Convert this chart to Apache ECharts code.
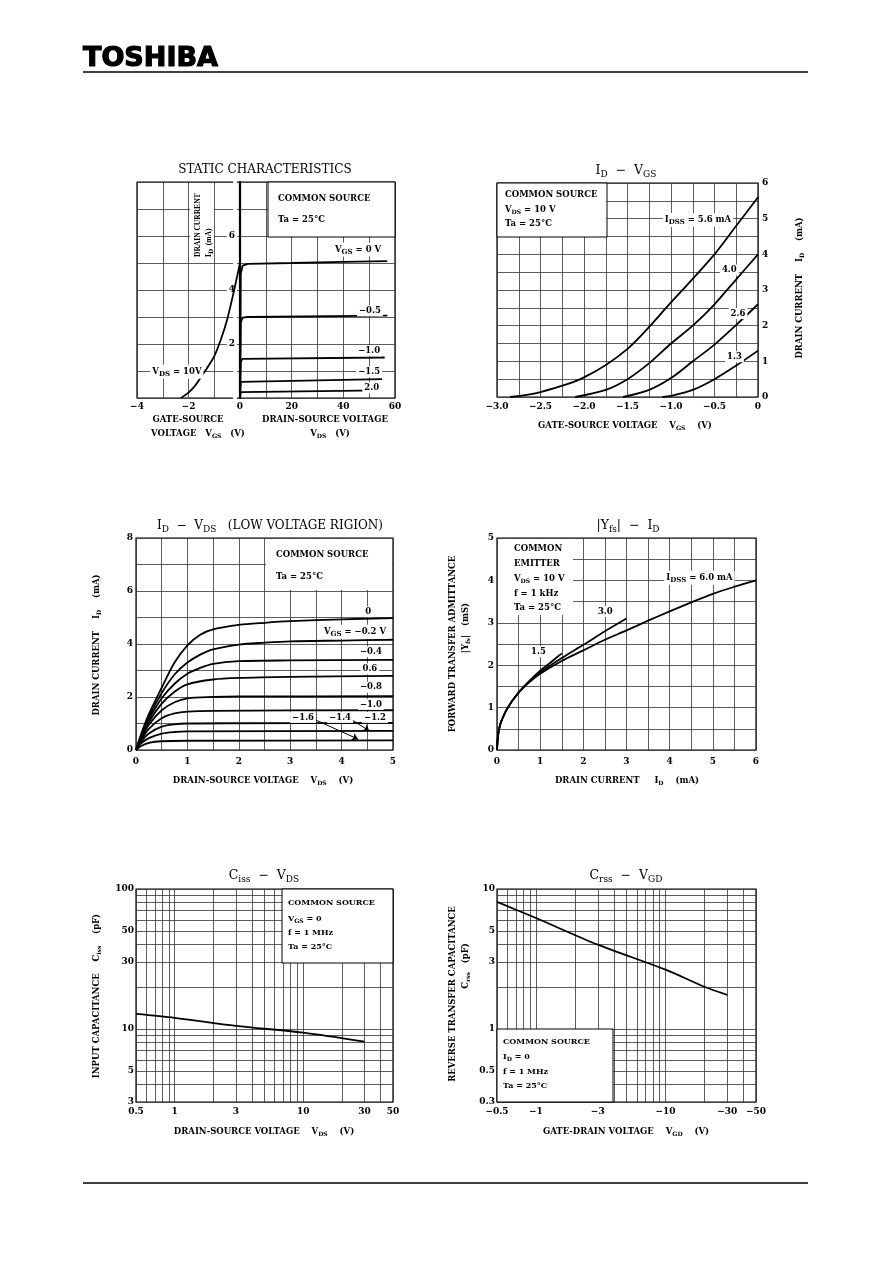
<!DOCTYPE html>
<html><head><meta charset="utf-8">
<script src="https://cdn.jsdelivr.net/npm/echarts@6/dist/echarts.min.js"></script>
<style>html,body{margin:0;padding:0;background:#fff}#c{width:892px;height:1263px}</style>
</head><body><div id="c"></div>
<script>
// ---------------- DATA ----------------
// Static characteristics: ID vs VGS at VDS=10V (left panel)
const staticTransfer = [[-2.3,0],[-2.0,0.2],[-1.75,0.45],[-1.5,0.8],[-1.25,1.15],[-1.0,1.55],[-0.75,2.15],[-0.5,2.9],[-0.25,3.9],[0,5.0]];
// Static characteristics: ID vs VDS (right panel)
const staticOutVgs0   = [[0,0],[0.3,4.6],[1,4.9],[3,4.97],[20,5.0],[40,5.04],[57,5.07]];
const staticOutVgsM05 = [[0,0],[0.3,2.8],[1,2.98],[3,3.0],[57,3.05]];
const staticOutVgsM10 = [[0,0],[0.3,1.35],[1,1.45],[56,1.5]];
const staticOutVgsM15 = [[0,0],[0.3,0.6],[1,0.66],[55,0.7]];
const staticOutVgsM20 = [[0,0],[0.3,0.22],[1,0.26],[54,0.28]];
const staticXLeftLabels = [-4,-2,0];
const staticXRightLabels = [20,40,60];
const staticYLabels = [2,4,6];

// ID - VGS
const idVgs56 = [[-2.85,0],[-2.5,0.14],[-2.0,0.55],[-1.5,1.35],[-1.0,2.65],[-0.5,4.0],[-0.25,4.8],[0,5.6]];
const idVgs40 = [[-2.1,0],[-1.75,0.2],[-1.5,0.5],[-1.25,0.95],[-1.0,1.5],[-0.75,2.0],[-0.5,2.6],[-0.25,3.3],[0,4.0]];
const idVgs26 = [[-1.55,0],[-1.25,0.2],[-1.0,0.53],[-0.75,1.0],[-0.5,1.47],[-0.25,2.02],[0,2.6]];
const idVgs13 = [[-1.1,0],[-1.0,0.03],[-0.75,0.2],[-0.5,0.5],[-0.25,0.88],[0,1.3]];

// ID - VDS (low voltage region)
const idVds_0   = [[0,0],[0.1,0.6],[0.25,1.35],[0.5,2.35],[0.75,3.3],[1,3.95],[1.25,4.35],[1.5,4.55],[2,4.72],[2.5,4.8],[3,4.86],[4,4.93],[5,4.98]];
const idVds_m02 = [[0,0],[0.1,0.55],[0.25,1.25],[0.5,2.15],[0.75,2.85],[1,3.3],[1.25,3.6],[1.5,3.8],[2,3.98],[2.5,4.05],[3,4.1],[4,4.13],[5,4.16]];
const idVds_m04 = [[0,0],[0.1,0.5],[0.25,1.15],[0.5,1.95],[0.75,2.5],[1,2.88],[1.25,3.1],[1.5,3.25],[2,3.35],[3,3.38],[5,3.4]];
const idVds_m06 = [[0,0],[0.1,0.48],[0.25,1.05],[0.5,1.75],[0.75,2.2],[1,2.48],[1.5,2.66],[2,2.72],[3,2.76],[5,2.8]];
const idVds_m08 = [[0,0],[0.1,0.42],[0.25,0.95],[0.5,1.5],[0.75,1.8],[1,1.95],[1.5,2.0],[2,2.02],[5,2.03]];
const idVds_m10 = [[0,0],[0.1,0.38],[0.25,0.8],[0.5,1.2],[0.75,1.38],[1,1.45],[1.5,1.48],[5,1.5]];
const idVds_m12 = [[0,0],[0.1,0.32],[0.25,0.62],[0.5,0.88],[0.75,0.97],[1,1.0],[2,1.01],[5,1.02]];
const idVds_m14 = [[0,0],[0.1,0.25],[0.25,0.45],[0.5,0.62],[0.75,0.68],[1,0.7],[5,0.72]];
const idVds_m16 = [[0,0],[0.1,0.15],[0.25,0.27],[0.5,0.33],[1,0.35],[5,0.36]];

// |Yfs| - ID
const yfs60 = [[0,0],[0.02,0.3],[0.05,0.5],[0.1,0.68],[0.25,1.0],[0.5,1.35],[0.75,1.6],[1,1.8],[1.5,2.1],[2,2.35],[2.5,2.6],[3,2.82],[3.5,3.05],[4,3.27],[4.5,3.48],[5,3.68],[5.5,3.85],[6,4.0]];
const yfs30 = [[0,0],[0.02,0.3],[0.05,0.5],[0.1,0.68],[0.25,1.0],[0.5,1.35],[0.75,1.61],[1,1.83],[1.5,2.17],[2,2.48],[2.5,2.8],[3,3.1]];
const yfs15 = [[0,0],[0.02,0.3],[0.05,0.5],[0.1,0.68],[0.25,1.0],[0.5,1.36],[0.75,1.63],[1,1.87],[1.25,2.07],[1.5,2.28]];

// Ciss - VDS (log-log)
const ciss = [[0.5,12.8],[1,12.0],[3,10.5],[10,9.4],[30,8.1]];
const cissXTicks = [0.5,0.6,0.7,0.8,0.9,1,2,3,4,5,6,7,8,9,10,20,30,40,50];
const cissXLabels = [0.5,1,3,10,30,50];
const cissYTicks = [3,4,5,6,7,8,9,10,20,30,40,50,60,70,80,90,100];
const cissYLabels = [3,5,10,30,50,100];

// Crss - VGD (log-log, |VGD|)
const crss = [[0.5,8.1],[1,6.2],[3,4.0],[10,2.65],[20,2.0],[30,1.75]];
const crssXTicks = [0.5,0.6,0.7,0.8,0.9,1,2,3,4,5,6,7,8,9,10,20,30,40,50];
const crssXLabels = [0.5,1,3,10,30,50];
const crssYTicks = [0.3,0.4,0.5,0.6,0.7,0.8,0.9,1,2,3,4,5,6,7,8,9,10];
const crssYLabels = [0.3,0.5,1,3,5,10];

// ---------------- STYLE / HELPERS ----------------
const SERIF = 'DejaVu Serif';
const MINUS = '\u2212';
const LBL = {color:'#000', fontFamily:SERIF, fontSize:9, fontWeight:'bold'};
const SPLIT = {show:true, lineStyle:{color:'#333', width:0.8}};
const MSPLIT = {show:true, lineStyle:{color:'#333', width:0.8}};

function lin(grid, min, max, interval, pos, lab, extra) {
  const a = {type:'value', gridIndex:grid, min, max, interval, position:pos,
    axisLine:{show:false}, axisTick:{show:false}, splitLine:SPLIT,
    axisLabel:Object.assign({}, LBL, lab||{}), animation:false};
  return Object.assign(a, extra||{});
}
function logHidden(grid, min, max, pos) {
  return {type:'log', logBase:10, gridIndex:grid, min, max, show:false, position:pos};
}
function logLabels(grid, ticks, labels, pos, fmt, margin) {
  return {type:'value', gridIndex:grid, position:pos,
    min:Math.log10(ticks[0]), max:Math.log10(ticks[ticks.length-1]),
    axisLine:{show:false},
    axisTick:{show:false, customValues:ticks.map(Math.log10)},
    splitLine:SPLIT,
    axisLabel:Object.assign({}, LBL, {margin, customValues:labels.map(Math.log10),
      formatter:v=>fmt(parseFloat(Math.pow(10,v).toPrecision(2)))})};
}
function curve(xi, yi, data, extra) {
  return Object.assign({type:'line', xAxisIndex:xi, yAxisIndex:yi, data, showSymbol:false, symbol:'none',
    smooth:0.3, lineStyle:{color:'#000', width:1.8}, silent:true, z:3, animation:false}, extra||{});
}
const RICH_L = {s:{fontSize:7, fontFamily:SERIF, fontWeight:'bold', color:'#000', padding:[5,0,0,0]}};
function notes(xi, yi, items) {
  return {type:'scatter', xAxisIndex:xi, yAxisIndex:yi, symbol:'circle', symbolSize:0,
    itemStyle:{color:'#000', opacity:1}, silent:true, z:6, animation:false,
    labelLayout:{hideOverlap:false},
    data:items.map(it=>({value:[it[0],it[1]], label:{show:true, position:'inside', formatter:it[2],
      color:'#000', opacity:1, textBorderWidth:0, fontFamily:SERIF, fontSize:8.5, fontWeight:'bold', rich:RICH_L,
      backgroundColor:it[3]===false?'transparent':'#fff', padding:[1,2]}}))};
}
function rich(fs, fw) {
  return {s:{fontSize:Math.round(fs*0.75), fontFamily:SERIF, fontWeight:fw, fill:'#000', padding:[Math.round(fs*0.55),0,0,0]}};
}
function gt(x, y, text, o) {
  o = o||{};
  const fs = o.fs||9;
  const fw = o.fw||'normal';
  return {type:'text', x, y, rotation:o.rot||0, z:61, silent:true,
    style:{text, fill:'#000', fontFamily:o.ff||SERIF, fontSize:fs, fontWeight:fw,
      textAlign:o.align||'center', textVerticalAlign:'middle', verticalAlign:'middle', rich:rich(fs, fw)}};
}
function box(x, y, w, h, stroke) {
  return {type:'rect', shape:{x, y, width:w, height:h}, z:60, silent:true,
    style:{fill:'#fff', stroke:stroke?'#000':null, lineWidth:stroke?1:0}};
}
const ROT = Math.PI/2;
const B = 'bold';

// ---------------- GRIDS ----------------
const G = {show:true, borderColor:'#000', borderWidth:1.2, backgroundColor:'transparent', containLabel:false};
const grids = [
  Object.assign({left:137, top:182, width:103, height:216}, G),
  Object.assign({left:240, top:182, width:155, height:216}, G),
  Object.assign({left:497, top:183, width:261, height:214}, G),
  Object.assign({left:136, top:538, width:257, height:212}, G),
  Object.assign({left:497, top:538, width:259, height:212}, G),
  Object.assign({left:136, top:889, width:257, height:213}, G),
  Object.assign({left:497, top:889, width:259, height:213}, G)
];

const minor2 = {minorTick:{show:false, splitNumber:2}, minorSplitLine:MSPLIT};

const xAxes = [
  lin(0, -4, 0, 1, 'bottom', {margin:4, formatter:v=>staticXLeftLabels.includes(v)?(v<0?MINUS+(-v):String(v)):''}),
  lin(1, 0, 60, 10, 'bottom', {margin:4, formatter:v=>staticXRightLabels.includes(v)?String(v):''}),
  lin(2, -3, 0, 0.5, 'bottom', {margin:5, formatter:v=>v===0?'0':MINUS+Math.abs(v).toFixed(1)}, minor2),
  lin(3, 0, 5, 1, 'bottom', {margin:7}, minor2),
  lin(4, 0, 6, 1, 'bottom', {margin:7}, minor2),
  logHidden(5, 0.5, 50, 'bottom'),
  logLabels(5, cissXTicks, cissXLabels, 'bottom', v=>String(v), 5),
  logHidden(6, 0.5, 50, 'bottom'),
  logLabels(6, crssXTicks, crssXLabels, 'bottom', v=>MINUS+v, 5)
];
const yAxes = [
  lin(0, 0, 8, 1, 'right', {inside:true, margin:3, backgroundColor:'#fff', padding:[1,2],
      formatter:v=>staticYLabels.includes(v)?String(v):''},
      {axisLine:{show:true, lineStyle:{color:'#000', width:2.2}}}),
  lin(1, 0, 8, 1, 'left', {show:false}),
  lin(2, 0, 6, 1, 'right', {margin:4}, minor2),
  lin(3, 0, 8, 2, 'left', {margin:3}, minor2),
  lin(4, 0, 5, 1, 'left', {margin:3}, minor2),
  logHidden(5, 3, 100, 'left'),
  logLabels(5, cissYTicks, cissYLabels, 'left', v=>String(v), 2),
  logHidden(6, 0.3, 10, 'left'),
  logLabels(6, crssYTicks, crssYLabels, 'left', v=>String(v), 2)
];

// ---------------- SERIES ----------------
const series = [
  curve(0, 0, staticTransfer),
  curve(1, 1, staticOutVgs0, {smooth:false}),
  curve(1, 1, staticOutVgsM05, {smooth:false}),
  curve(1, 1, staticOutVgsM10, {smooth:false}),
  curve(1, 1, staticOutVgsM15, {smooth:false}),
  curve(1, 1, staticOutVgsM20, {smooth:false}),
  notes(0, 0, [[-2.45, 0.97, 'V{s|DS} = 10V']]),
  notes(1, 1, [[45.7, 5.5, 'V{s|GS} = 0 V'], [50.3, 3.23, MINUS+'0.5'], [50, 1.75, MINUS+'1.0'], [50, 0.97, MINUS+'1.5'], [51, 0.38, '2.0']]),

  curve(2, 2, idVgs56), curve(2, 2, idVgs40), curve(2, 2, idVgs26), curve(2, 2, idVgs13),
  notes(2, 2, [[-0.69, 4.96, 'I{s|DSS} = 5.6 mA'], [-0.33, 3.56, '4.0'], [-0.23, 2.34, '2.6'], [-0.27, 1.13, '1.3']]),

  curve(3, 3, idVds_0), curve(3, 3, idVds_m02), curve(3, 3, idVds_m04), curve(3, 3, idVds_m06),
  curve(3, 3, idVds_m08), curve(3, 3, idVds_m10), curve(3, 3, idVds_m12), curve(3, 3, idVds_m14),
  curve(3, 3, idVds_m16, {markLine:{silent:true, symbol:['none','arrow'], symbolSize:6, animation:false,
      lineStyle:{color:'#000', width:1, type:'solid'}, label:{show:false},
      data:[[{coord:[3.43,1.19]},{coord:[4.32,0.41]}], [{coord:[4.15,1.2]},{coord:[4.54,0.72]}]]}}),
  notes(3, 3, [[4.52, 5.22, '0'], [4.26, 4.46, 'V{s|GS} = '+MINUS+'0.2 V'], [4.57, 3.71, MINUS+'0.4'], [4.55, 3.06, '0.6'],
               [4.57, 2.37, MINUS+'0.8'], [4.57, 1.72, MINUS+'1.0'], [4.65, 1.23, MINUS+'1.2'],
               [3.97, 1.23, MINUS+'1.4'], [3.25, 1.23, MINUS+'1.6']]),

  curve(4, 4, yfs60), curve(4, 4, yfs30), curve(4, 4, yfs15),
  notes(4, 4, [[4.69, 4.06, 'I{s|DSS} = 6.0 mA'], [2.51, 3.27, '3.0'], [0.96, 2.32, '1.5']]),

  curve(5, 5, ciss),
  curve(7, 7, crss)
];

// ---------------- GRAPHIC (text, boxes, rules) ----------------
const graphic = [
  {type:'text', x:83, y:59, z:61, silent:true, style:{text:'TOSHIBA', fill:'#000', stroke:'#000', lineWidth:1.2, fontFamily:'DejaVu Sans', fontSize:27, fontWeight:'bold', textAlign:'left', textVerticalAlign:'middle', verticalAlign:'middle'}},
  {type:'line', z:61, silent:true, shape:{x1:83, y1:72, x2:808, y2:72}, style:{stroke:'#000', lineWidth:1.5}},
  {type:'line', z:61, silent:true, shape:{x1:83, y1:1183, x2:808, y2:1183}, style:{stroke:'#000', lineWidth:1.5}},

  // titles
  gt(265, 170, 'STATIC CHARACTERISTICS', {fs:12}),
  gt(626, 171, 'I{s|D}  \u2212  V{s|GS}', {fs:12.5}),
  gt(270, 526, 'I{s|D}  \u2212  V{s|DS}   (LOW VOLTAGE RIGION)', {fs:12}),
  gt(628, 526, '|Y{s|fs}|  \u2212  I{s|D}', {fs:12.5}),
  gt(264, 876, 'C{s|iss}  \u2212  V{s|DS}', {fs:12.5}),
  gt(626, 876, 'C{s|rss}  \u2212  V{s|GD}', {fs:12.5}),

  // x-axis names
  gt(188, 420, 'GATE-SOURCE', {fs:8.5, fw:B}),
  gt(198, 434, 'VOLTAGE   V{s|GS}   (V)', {fs:8.5, fw:B}),
  gt(325, 420, 'DRAIN-SOURCE VOLTAGE', {fs:8.5, fw:B}),
  gt(330, 434, 'V{s|DS}   (V)', {fs:8.5, fw:B}),
  gt(625, 426, 'GATE-SOURCE VOLTAGE    V{s|GS}    (V)', {fs:8.5, fw:B}),
  gt(263, 781, 'DRAIN-SOURCE VOLTAGE    V{s|DS}    (V)', {fs:8.5, fw:B}),
  gt(627, 781, 'DRAIN CURRENT     I{s|D}    (mA)', {fs:8.5, fw:B}),
  gt(264, 1132, 'DRAIN-SOURCE VOLTAGE    V{s|DS}    (V)', {fs:8.5, fw:B}),
  gt(626, 1132, 'GATE-DRAIN VOLTAGE    V{s|GD}    (V)', {fs:8.5, fw:B}),

  // y-axis names (rotated)
  box(190, 183, 24, 76, false),
  gt(198, 257, 'DRAIN CURRENT', {fs:7.5, rot:ROT, align:'left', ff:'Liberation Serif', fw:B}),
  gt(209, 257, 'I{s|D}  (mA)', {fs:7.5, rot:ROT, align:'left', ff:'Liberation Serif', fw:B}),
  gt(800, 288, 'DRAIN CURRENT    I{s|D}    (mA)', {fs:8.5, rot:ROT, fw:B}),
  gt(97, 645, 'DRAIN CURRENT    I{s|D}    (mA)', {fs:8.5, rot:ROT, fw:B}),
  gt(453, 644, 'FORWARD TRANSFER ADMITTANCE', {fs:8.5, rot:ROT, fw:B}),
  gt(466, 628, '|Y{s|fs}|   (mS)', {fs:8.5, rot:ROT, fw:B}),
  gt(97, 996, 'INPUT CAPACITANCE    C{s|iss}    (pF)', {fs:8.5, rot:ROT, fw:B}),
  gt(453, 994, 'REVERSE TRANSFER CAPACITANCE', {fs:8.5, rot:ROT, fw:B}),
  gt(466, 966, 'C{s|rss}   (pF)', {fs:8.5, rot:ROT, fw:B}),

  // legend boxes
  box(268, 182, 127, 55, true),
  gt(278, 199, 'COMMON SOURCE', {align:'left', fw:B, fs:8.5}),
  gt(278, 220, 'Ta = 25\u00b0C', {align:'left', fw:B, fs:8.5}),

  box(497, 183, 110, 54, true),
  gt(505, 195, 'COMMON SOURCE', {align:'left', fw:B, fs:8.5}),
  gt(505, 210, 'V{s|DS} = 10 V', {align:'left', fw:B, fs:8.5}),
  gt(505, 224, 'Ta = 25\u00b0C', {align:'left', fw:B, fs:8.5}),

  box(266, 539, 126, 51, false),
  gt(276, 555, 'COMMON SOURCE', {align:'left', fw:B, fs:8.5}),
  gt(276, 577, 'Ta = 25\u00b0C', {align:'left', fw:B, fs:8.5}),

  box(498, 539, 75, 76, false),
  gt(514, 549, 'COMMON', {align:'left', fw:B, fs:8.5}),
  gt(514, 564, 'EMITTER', {align:'left', fw:B, fs:8.5}),
  gt(514, 579, 'V{s|DS} = 10 V', {align:'left', fw:B, fs:8.5}),
  gt(514, 594, 'f = 1 kHz', {align:'left', fw:B, fs:8.5}),
  gt(514, 608, 'Ta = 25\u00b0C', {align:'left', fw:B, fs:8.5}),

  box(282, 889, 111, 74, true),
  gt(288, 903, 'COMMON SOURCE', {align:'left', fw:B, fs:8}),
  gt(288, 919, 'V{s|GS} = 0', {align:'left', fw:B, fs:8}),
  gt(288, 933, 'f = 1 MHz', {align:'left', fw:B, fs:8}),
  gt(288, 947, 'Ta = 25\u00b0C', {align:'left', fw:B, fs:8}),

  box(497, 1029, 116, 73, true),
  gt(503, 1042, 'COMMON SOURCE', {align:'left', fw:B, fs:8}),
  gt(503, 1057, 'I{s|D} = 0', {align:'left', fw:B, fs:8}),
  gt(503, 1072, 'f = 1 MHz', {align:'left', fw:B, fs:8}),
  gt(503, 1086, 'Ta = 25\u00b0C', {align:'left', fw:B, fs:8})
];

const chart = echarts.init(document.getElementById('c'), null, {renderer:'canvas'});
chart.setOption({
  animation:false,
  backgroundColor:'#fff',
  grid:grids,
  xAxis:xAxes,
  yAxis:yAxes,
  series,
  graphic
});
</script>
</body></html>
